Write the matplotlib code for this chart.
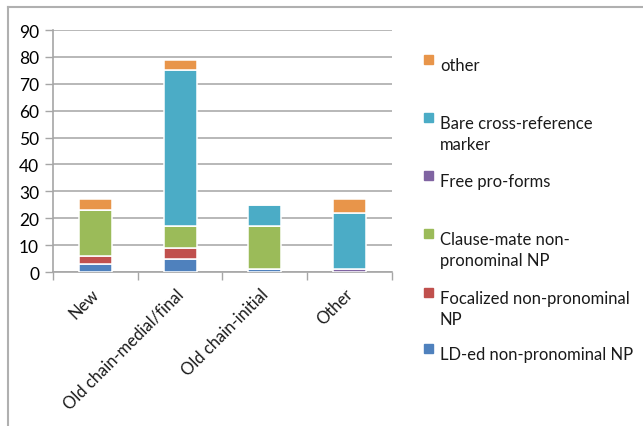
import numpy as np
import matplotlib.pyplot as plt
from matplotlib.lines import Line2D

plt.rcParams['font.family'] = ['Lato', 'DejaVu Sans']

categories = ['New', 'Old chain-medial/final', 'Old chain-initial', 'Other']
series_names = ['LD-ed non-pronominal NP', 'Focalized non-pronominal NP',
                'Clause-mate non-pronominal NP', 'Free pro-forms',
                'Bare cross-reference marker', 'other']
ld_ed = [3, 5, 1, 0]
focalized = [3, 4, 0, 0]
clause_mate = [17, 8, 16, 0]
free_pro = [0, 0, 0, 1]
bare_marker = [0, 58, 8, 21]
other = [4, 4, 0, 5]
colors = ['#4F81BD', '#C0504D', '#9BBB59', '#8064A2', '#4BACC6', '#E8954A']

legend_labels = ['other', 'Bare cross-reference\nmarker', 'Free pro-forms',
                 'Clause-mate non-\npronominal NP', 'Focalized non-pronominal\nNP',
                 'LD-ed non-pronominal NP']
legend_colors = [colors[5], colors[4], colors[3], colors[2], colors[1], colors[0]]

W, H = 643, 427
fig = plt.figure(figsize=(W / 100, H / 100), dpi=100)
ax = fig.add_axes([53 / W, 1 - 273 / H, (392 - 53) / W, (273 - 31) / H])

x = np.arange(len(categories))
bottom = np.zeros(len(categories))
for vals, col in zip([ld_ed, focalized, clause_mate, free_pro, bare_marker, other], colors):
    ax.bar(x, vals, width=0.39, bottom=bottom, color=col, edgecolor='white',
           linewidth=1.1, zorder=3)
    bottom += np.array(vals)

ax.set_xlim(-0.5, len(categories) - 0.5)
ax.set_ylim(0, 90)
ax.set_yticks(range(0, 91, 10))
ax.yaxis.grid(True, color='#ABABAB', linewidth=1.2, zorder=0)
ax.tick_params(axis='y', length=6, width=1, color='#A6A6A6', labelsize=12.5, pad=4)
ax.set_xticks(np.arange(-0.5, len(categories), 1))
ax.set_xticklabels([])
ax.tick_params(axis='x', length=6, width=1, color='#A6A6A6')
for xi, lab in zip(x, categories):
    ax.text(xi - 0.06, -5, lab, rotation=45, ha='right', va='top',
            rotation_mode='anchor', fontsize=12, color='#1a1a1a')
for s in ['top', 'right']:
    ax.spines[s].set_visible(False)
ax.spines['left'].set_color('#A6A6A6')
ax.spines['bottom'].set_color('#A6A6A6')
ax.spines['left'].set_linewidth(1.2)
ax.spines['bottom'].set_linewidth(1.2)

# legend drawn by hand so the spacing follows the chart
legend_y = [64, 122, 180, 238, 297, 353]
for lab, col, ly in zip(legend_labels, legend_colors, legend_y):
    fig.patches.append(plt.Rectangle((424 / W, 1 - (ly + 1) / H), 9 / W, 9 / H,
                                     transform=fig.transFigure, color=col))
    fig.text(440 / W, 1 - (ly - 6) / H, lab, ha='left', va='top',
             fontsize=12, linespacing=1.35, color='#1a1a1a')

# chart area frame
fig.add_artist(Line2D([7.5 / W, 7.5 / W], [0, 1 - 7.5 / H], color='#B0B0B0', lw=1.5,
                      transform=fig.transFigure))
fig.add_artist(Line2D([7.5 / W, 1], [1 - 7.5 / H, 1 - 7.5 / H], color='#B0B0B0', lw=1.5,
                      transform=fig.transFigure))

fig.savefig('out.png', dpi=100)
